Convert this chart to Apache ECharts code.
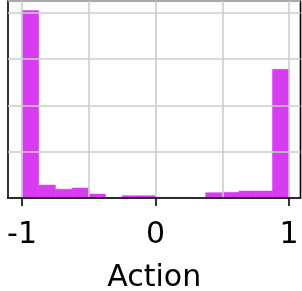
<!DOCTYPE html>
<html>
<head>
<meta charset="utf-8">
<script src="https://cdn.jsdelivr.net/npm/echarts@6/dist/echarts.min.js"></script>
<style>
html, body { margin: 0; padding: 0; background: #fff; }
#main { width: 302px; height: 291px; }
</style>
</head>
<body>
<div id="main"></div>
<script>
// histogram bins (left / right edges) and their heights
var binLeft  = [-1, -0.875, -0.75, -0.625, -0.5, -0.375, -0.25, -0.125, 0, 0.125, 0.25, 0.375, 0.5, 0.625, 0.75, 0.875];
var binRight = [-0.875, -0.75, -0.625, -0.5, -0.375, -0.25, -0.125, 0, 0.125, 0.25, 0.375, 0.5, 0.625, 0.75, 0.875, 1];
var counts   = [4.05, 0.28, 0.19, 0.216, 0.086, 0, 0.05, 0.05, 0.015, 0.015, 0, 0.115, 0.123, 0.151, 0.151, 2.78];

var tickValues = [-1, 0, 1];
var gridValues = [-1, -0.5, 0, 0.5, 1];

var barColor = '#d83cf0';
var fontName = 'DejaVu Sans';

var myChart = echarts.init(document.getElementById('main'));

var data = binLeft.map(function (l, i) { return [l, binRight[i], counts[i]]; });

function renderItem(params, api) {
	var p0 = api.coord([api.value(0), api.value(2)]);
	var p1 = api.coord([api.value(1), 0]);
	return {
		type: 'rect',
		shape: { x: p0[0], y: p0[1], width: p1[0] - p0[0], height: p1[1] - p0[1] },
		style: { fill: barColor, stroke: barColor, lineWidth: 0.5 }
	};
}

var option = {
	animation: false,
	grid: {
		left: 8, top: 1, width: 292.5, height: 197,
		outerBoundsMode: 'none',
		containLabel: false,
		show: true,
		borderColor: '#000',
		borderWidth: 1.6
	},
	xAxis: [
		{
			type: 'value',
			min: -1.105, max: 1.085,
			z: 3,
			name: 'Action',
			nameLocation: 'middle',
			nameGap: 65,
			nameTextStyle: { color: '#000', fontSize: 30, fontFamily: fontName },
			axisLine: { show: true, lineStyle: { color: '#000', width: 1.6 } },
			axisTick: { show: true, length: 8, customValues: tickValues, lineStyle: { color: '#000', width: 1.6 } },
			axisLabel: { customValues: tickValues, margin: 22, color: '#000', fontSize: 30, fontFamily: fontName },
			splitLine: { show: false }
		},
		{
			// gridlines only
			type: 'value',
			min: -1.105, max: 1.085,
			position: 'bottom',
			z: 3,
			axisLine: { show: false },
			axisTick: { show: false, customValues: gridValues },
			axisLabel: { show: false },
			splitLine: { show: true, lineStyle: { color: '#cccccc', width: 1.6 } }
		}
	],
	yAxis: {
		type: 'value',
		min: 0, max: 4.255,
		interval: 1,
		z: 3,
		axisLine: { show: false },
		axisTick: { show: false },
		axisLabel: { show: false },
		splitLine: { show: true, lineStyle: { color: '#cccccc', width: 1.6 } }
	},
	series: [
		{
			type: 'custom',
			xAxisIndex: 0,
			renderItem: renderItem,
			encode: { x: [0, 1], y: 2 },
			data: data
		}
	]
};

myChart.setOption(option);
</script>
</body>
</html>
